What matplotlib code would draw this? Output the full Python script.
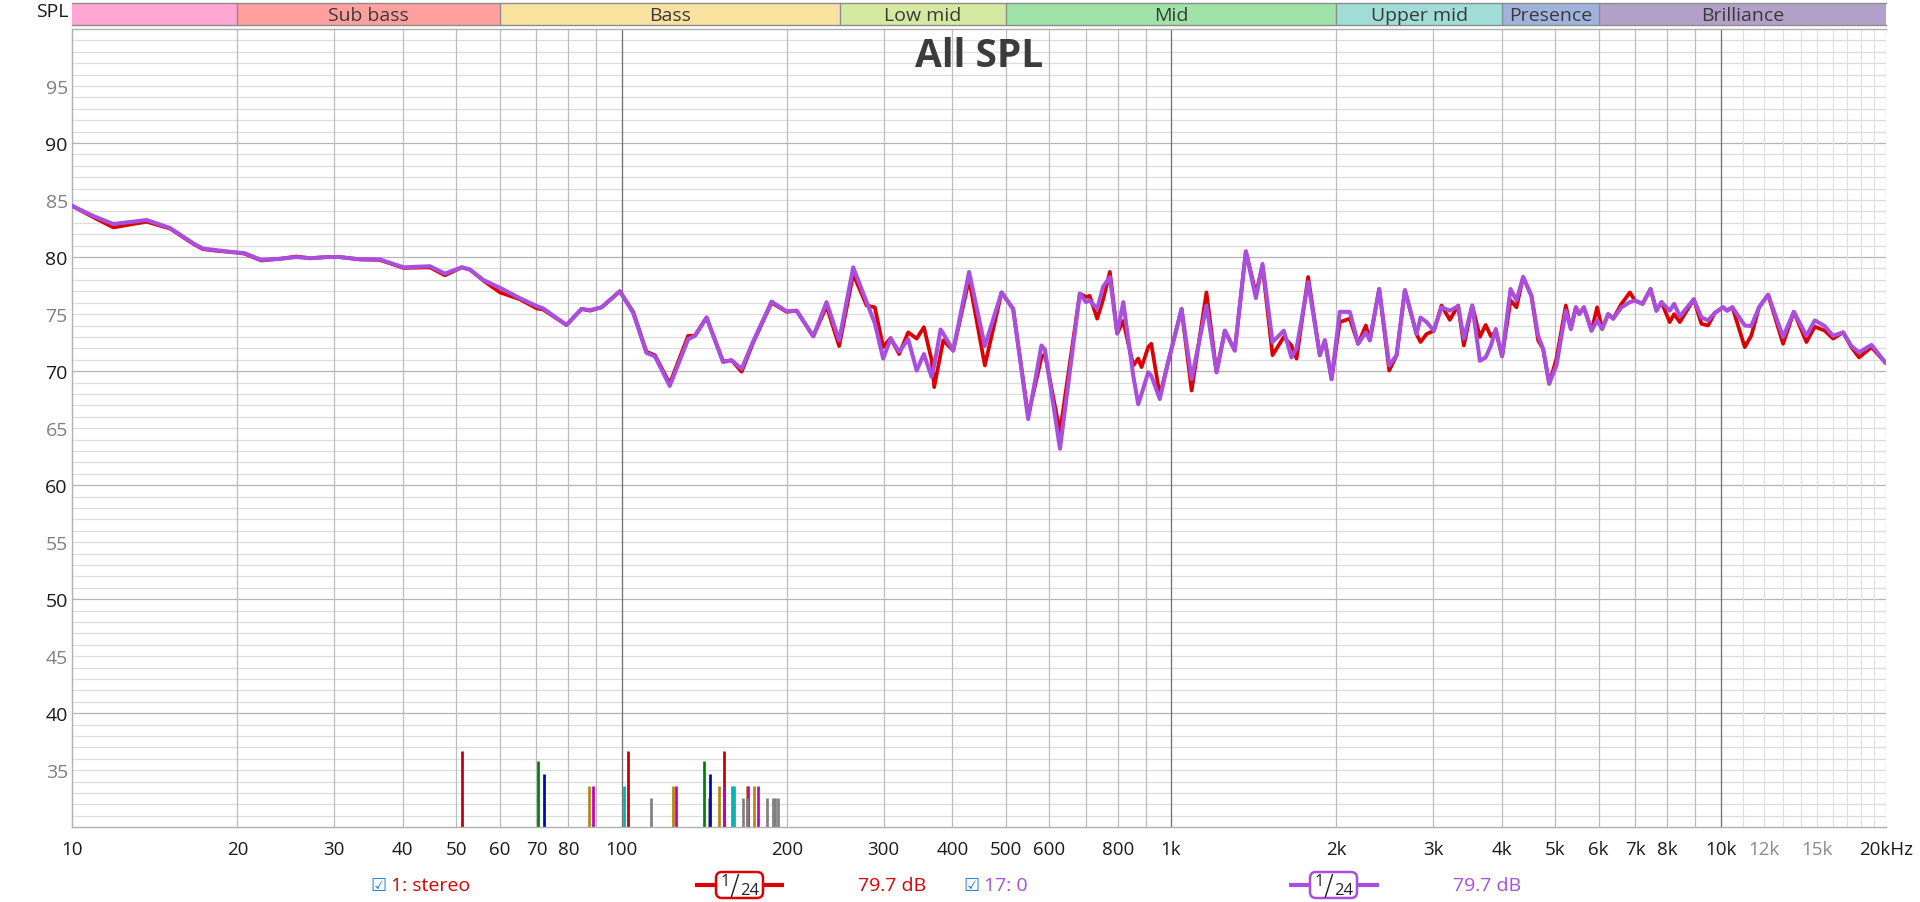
import matplotlib
matplotlib.use('Agg')
import matplotlib.pyplot as plt
from matplotlib.patches import FancyBboxPatch

plt.rcParams['font.family'] = ['Open Sans', 'DejaVu Sans']

# ---------------- data ----------------
freq = [10, 10.93, 11.89, 13.67, 15.08, 16.63, 17.3, 18.34, 19.9, 20.6, 22.1, 23.9, 25.6, 27.1,
        29.1, 30.7, 33.4, 36.3, 40.1, 44.8, 47.7, 51.2, 53.0, 56.0, 60.1, 65.3, 70.1, 72.0,
        79.4, 84.6, 87.6, 92.0, 99.3, 105, 111, 115, 122.4, 132.2, 136, 142.8, 153, 158.6,
        165.4, 173.6, 187.5, 199.7, 208.3, 223.3, 236.1, 248.9, 264, 279.3, 289, 299.3,
        308.8, 320, 332.4, 344.4, 355, 366.6, 370.7, 380.7, 385, 401.4, 429, 458.3, 491.6,
        516, 549.5, 581, 589.4, 627.9, 682.3, 700, 711, 733.8, 752.4, 773.8, 798, 818.5,
        853.5, 871.5, 883.7, 908.8, 920.5, 954, 987.9, 1045, 1090, 1160, 1210, 1253, 1306,
        1368, 1427, 1467, 1530, 1604, 1656, 1692, 1776, 1865, 1905, 1959, 2028, 2115, 2190,
        2262, 2300, 2392, 2495, 2573, 2664, 2797, 2844, 2917, 3008, 3106, 3216, 3330, 3410,
        3532, 3648, 3736, 3821, 3899, 4003, 4147, 4252, 4372, 4527, 4656, 4754, 4877, 5028,
        5228, 5340, 5453, 5530, 5639, 5824, 5962, 6087, 6244, 6376, 6602, 6839, 6982, 7211,
        7456, 7643, 7805, 8080, 8232, 8431, 8935, 9230, 9490, 9759, 10105, 10275, 10509,
        11066, 11370, 11750, 12205, 12993, 13592, 14329, 14840, 15471, 16022, 16710, 17297,
        17865, 18820, 19900, 20000]

red_db = [84.5, 83.5, 82.6, 83.1, 82.5, 81.15, 80.7, 80.55, 80.4, 80.3, 79.7, 79.85, 80.05, 79.9,
          80.0, 80.0, 79.8, 79.75, 79.05, 79.1, 78.4, 79.1, 78.9, 77.95, 76.9, 76.3, 75.5, 75.4,
          74.05, 75.45, 75.3, 75.6, 77.0, 75.2, 71.7, 71.4, 68.9, 73.1, 73.1, 74.7, 70.85, 70.95,
          69.95, 72.5, 76.0, 75.2, 75.3, 73.05, 75.7, 72.2, 78.5, 75.75, 75.6, 72.1,
          72.9, 71.5, 73.4, 72.85, 73.85, 71.0, 68.6, 71.5, 72.7, 71.8, 78.05, 70.5, 76.9,
          75.45, 66.1, 71.2, 71.5, 64.65, 76.8, 76.5, 76.6, 74.6, 76.3, 78.7, 73.3, 74.4,
          70.5, 71.1, 70.35, 72.1, 72.4, 67.85, 70.8, 75.45, 68.3, 76.9, 69.9, 73.55, 71.8,
          80.5, 76.8, 79.25, 71.4, 73.0, 72.25, 71.1, 78.25, 71.4, 72.7, 69.3, 74.3, 74.6, 72.4,
          74.0, 72.7, 77.2, 70.05, 71.4, 77.1, 73.25, 72.55, 73.25, 73.55, 75.75, 74.5, 75.75, 72.25,
          75.75, 73.0, 74.05, 73.05, 73.5, 71.3, 76.2, 75.6, 78.25, 76.6, 72.7, 71.95, 68.9, 71.1,
          75.75, 73.7, 75.6, 75.0, 75.6, 73.55, 75.6, 73.7, 75.0, 74.6, 75.9, 76.9, 76.2, 75.9,
          77.2, 75.3, 76.05, 74.3, 75.0, 74.3, 76.3, 74.15, 74.0, 75.1, 75.6, 75.3, 75.6,
          72.1, 73.1, 75.6, 76.7, 72.4, 75.2, 72.55, 73.9, 73.55, 72.85, 73.4, 72.1,
          71.2, 72.1, 70.8, 70.7]

purple_db = [84.5, 83.6, 82.9, 83.25, 82.55, 81.2, 80.75, 80.6, 80.4, 80.35, 79.75, 79.85, 80.0, 79.9,
             80.0, 80.0, 79.8, 79.8, 79.1, 79.2, 78.55, 79.1, 78.9, 78.0, 77.3, 76.4, 75.7, 75.5,
             74.05, 75.45, 75.35, 75.6, 77.0, 75.1, 71.6, 71.3, 68.7, 72.8, 73.1, 74.7, 70.8, 70.95,
             70.2, 72.6, 76.1, 75.25, 75.3, 73.05, 76.05, 72.7, 79.1, 76.05, 74.2, 71.1,
             72.85, 71.7, 72.8, 70.05, 71.5, 69.5, 70.5, 73.65, 73.3, 71.8, 78.7, 72.2, 76.9,
             75.45, 65.8, 72.25, 71.9, 63.2, 76.8, 76.05, 76.2, 75.45, 77.4, 78.25, 73.3, 76.05,
             69.6, 67.1, 68.0, 69.9, 69.6, 67.55, 70.8, 75.45, 69.3, 75.75, 69.9, 73.55, 71.8,
             80.5, 76.4, 79.4, 72.55, 73.55, 71.2, 72.0, 77.8, 71.4, 72.7, 69.3, 75.2, 75.2, 72.4,
             73.4, 72.7, 77.2, 70.5, 71.4, 77.1, 73.25, 74.7, 74.3, 73.55, 75.6, 75.3, 75.7, 72.85,
             75.75, 70.9, 71.2, 72.25, 73.7, 71.3, 77.2, 76.2, 78.25, 76.6, 73.1, 71.95, 68.9, 70.5,
             75.3, 73.7, 75.6, 75.0, 75.6, 73.55, 74.45, 73.7, 75.0, 74.6, 75.6, 76.05, 76.2, 75.9,
             77.2, 75.3, 76.05, 75.3, 75.9, 74.8, 76.3, 74.7, 74.45, 75.1, 75.6, 75.3, 75.6,
             74.0, 73.95, 75.6, 76.7, 73.0, 75.2, 73.1, 74.45, 73.95, 73.1, 73.4, 72.2,
             71.65, 72.3, 70.8, 70.7]

bar_freq = [51.3, 70.6, 72.3, 87.3, 88.8, 101, 102.8, 113.3, 124.2, 125.6, 141.2, 144.4, 145.0,
            150.6, 153.8, 153.8, 158.8, 160.5, 166.5, 168.9, 170.0, 169.4, 174.4, 177.4, 184.2,
            188.6, 190.6, 192.6]
bar_top = [36.7, 35.8, 34.7, 33.6, 33.6, 33.6, 36.7, 32.6, 33.6, 33.6, 35.8, 32.6, 34.7,
           33.6, 36.7, 33.6, 33.6, 33.6, 32.6, 33.6, 33.6, 32.6, 33.6, 33.6, 32.6,
           32.6, 32.6, 32.6]
bar_color = ['#C00000', '#008000', '#0000C0', '#B8860B', '#C000C0', '#00B4B4', '#C00000', '#808080',
             '#B8860B', '#C000C0', '#008000', '#808080', '#0000C0', '#B8860B', '#C00000', '#C000C0',
             '#00B4B4', '#00B4B4', '#808080', '#B8860B', '#C000C0', '#808080', '#B8860B', '#C000C0',
             '#808080', '#808080', '#808080', '#808080']

band_edges = [10, 20, 60, 250, 500, 2000, 4000, 6000, 20000]
band_names = ['', 'Sub bass', 'Bass', 'Low mid', 'Mid', 'Upper mid', 'Presence', 'Brilliance']
band_colors = ['#FFA6D2', '#FFA09E', '#F9E1A0', '#D5EAA0', '#A0E3A8', '#A0DDD6', '#A0B3DC', '#B2A0C8']

xtick_vals = [10, 20, 30, 40, 50, 60, 70, 80, 100, 200, 300, 400, 500, 600, 800, 1000, 2000, 3000,
              4000, 5000, 6000, 7000, 8000, 10000, 12000, 15000, 20000]
xtick_labels = ['10', '20', '30', '40', '50', '60', '70', '80', '100', '200', '300', '400', '500',
                '600', '800', '1k', '2k', '3k', '4k', '5k', '6k', '7k', '8k', '10k', '12k', '15k', '20kHz']
ytick_vals = [35, 40, 45, 50, 55, 60, 65, 70, 75, 80, 85, 90, 95]

series_names = ['1: stereo', '17: 0']
series_level = ['79.7 dB', '79.7 dB']
red_c = '#DD0000'
purple_c = '#A94FE0'

# ---------------- figure ----------------
W, H = 1920, 903
fig = plt.figure(figsize=(W / 100, H / 100), dpi=100)
fig.patch.set_facecolor('white')

x0, x1 = 72, 1886
y_top, y_bot = 30, 828.3
ax = fig.add_axes([x0 / W, 1 - y_bot / H, (x1 - x0) / W, (y_bot - y_top) / H])
ax.set_xscale('log')
ax.set_xlim(10, 20000)
ax.set_ylim(30, 100)

# grid
for db in range(31, 100):
    c = '#b4b4b4' if db % 10 == 0 else '#dcdcdc'
    ax.axhline(db, color=c, lw=0.9, zorder=1)
for dec in [10, 100, 1000]:
    for m in range(2, 10):
        ax.axvline(dec * m, color='#bdbdbd', lw=0.9, zorder=1)
for f in [100, 1000, 10000]:
    ax.axvline(f, color='#6e6e6e', lw=0.9, zorder=1.5)
for f in range(11000, 20000, 1000):
    ax.axvline(f, color='#e0e0e0', lw=0.9, zorder=1)
ax.axvline(20000, color='#bdbdbd', lw=0.9, zorder=1)

# bars
for bf, bt, bc in zip(bar_freq, bar_top, bar_color):
    ax.vlines(bf, 30, bt, colors=bc, lw=1.95, zorder=2, capstyle='butt')

# curves
ax.plot(freq, red_db, color=red_c, lw=2.7, zorder=3, solid_joinstyle='round', solid_capstyle='round')
ax.plot(freq, purple_db, color=purple_c, lw=2.9, zorder=4, solid_joinstyle='round', solid_capstyle='round')

# ticks
ax.set_xticks(xtick_vals)
ax.set_xticklabels(xtick_labels)
ax.minorticks_off()
ax.set_xticks([], minor=True)
for lbl, v in zip(ax.get_xticklabels(), xtick_vals):
    lbl.set_color('#8a8a8a' if v in (12000, 15000) else '#1a1a1a')
ax.tick_params(axis='x', length=0, pad=9, labelsize=13.5)
ax.set_yticks(ytick_vals)
ax.set_yticklabels([str(v) for v in ytick_vals])
for lbl, v in zip(ax.get_yticklabels(), ytick_vals):
    lbl.set_color('#1a1a1a' if v % 10 == 0 else '#808080')
ax.tick_params(axis='y', length=0, pad=3, labelsize=14)

for s in ['left', 'bottom', 'top']:
    ax.spines[s].set_color('#b0b0b0')
    ax.spines[s].set_linewidth(1.0)
ax.spines['right'].set_visible(False)

ax.text(0.5, (y_bot - 56) / (y_bot - y_top), 'All SPL', transform=ax.transAxes, ha='center',
        va='center', fontsize=28, fontweight='bold', color='#3c3c3c', zorder=6)

# band strip
bt_, bb_ = 4.3, 26
bax = fig.add_axes([x0 / W, 1 - bb_ / H, (x1 - x0) / W, (bb_ - bt_) / H])
bax.set_xscale('log')
bax.set_xlim(10, 20000)
bax.set_ylim(0, 1)
for i, name in enumerate(band_names):
    lo, hi = band_edges[i], band_edges[i + 1]
    bax.axvspan(lo, hi, color=band_colors[i], lw=0)
    if i > 0:
        bax.axvline(lo, color='#8c8c8c', lw=1.0)
    if name:
        bax.text((lo * hi) ** 0.5, 0.47, name, ha='center', va='center', fontsize=14, color='#3a3a3a')
bax.set_xticks([])
bax.set_yticks([])
bax.minorticks_off()
for s in bax.spines.values():
    s.set_color('#8c8c8c')
    s.set_linewidth(1.0)
bax.spines['left'].set_visible(False)
bax.spines['right'].set_visible(False)

fig.text(68 / W, 1 - 12 / H, 'SPL', ha='right', va='center', fontsize=14, color='#1a1a1a')

# legend overlay in pixel coordinates
lax = fig.add_axes([0, 0, 1, 1])
lax.set_xlim(0, W)
lax.set_ylim(H, 0)
lax.axis('off')
ly = 886


def legend_item(cb_x, name, color, line_x0, line_x1, box_x0, box_x1, level_x, level):
    lax.text(cb_x, ly, '\u2611', ha='center', va='center', fontsize=13, color='#1E7FE0',
             family='DejaVu Sans')
    lax.text(cb_x + 13, ly, name, ha='left', va='center', fontsize=14, color=color)
    lax.plot([line_x0, line_x1], [ly, ly], color=color, lw=3.0, solid_capstyle='butt')
    bw = box_x1 - box_x0
    box = FancyBboxPatch((box_x0, ly - 13), bw, 26, boxstyle='round,pad=0,rounding_size=6',
                         fc='white', ec=color, lw=1.8, zorder=5)
    lax.add_patch(box)
    cx = box_x0
    lax.text(cx + 9, ly - 4, '1', ha='center', va='center', fontsize=12, color='#222222', zorder=6)
    lax.text(cx + 18, ly + 1, '/', ha='center', va='center', fontsize=21, color='#222222', zorder=6,
             family='DejaVu Sans', fontweight='light')
    lax.text(cx + 34, ly + 5, '24', ha='center', va='center', fontsize=12, color='#222222', zorder=6)
    lax.text(level_x, ly, level, ha='left', va='center', fontsize=14, color=color)


legend_item(378, series_names[0], red_c, 695, 784, 716, 763, 858, series_level[0])
legend_item(971, series_names[1], purple_c, 1289, 1379, 1310, 1357, 1453, series_level[1])

fig.savefig('out.png', dpi=100, facecolor='white')
